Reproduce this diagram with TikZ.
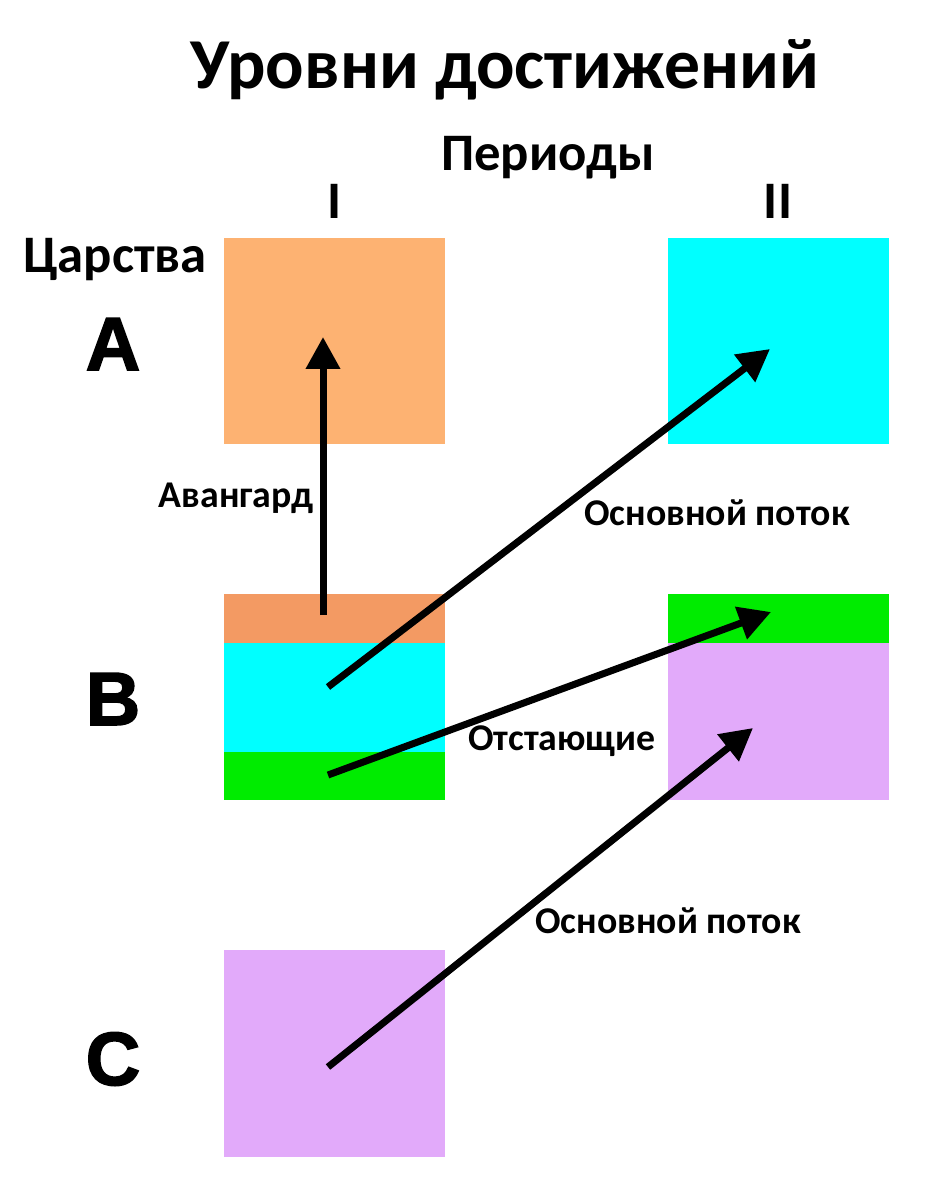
\documentclass[tikz,border=0pt]{standalone}
\usepackage{fontspec}
\setmainfont{Carlito}
\newfontfamily\lvlsans{Liberation Sans}[BoldFeatures={FakeBold=2}]
\usetikzlibrary{positioning,arrows.meta}
\definecolor{LvlOrange}{RGB}{253,178,114}
\definecolor{LvlRust}{RGB}{243,154,99}
\definecolor{LvlCyan}{RGB}{0,255,255}
\definecolor{LvlGreen}{RGB}{0,236,0}
\definecolor{LvlViolet}{RGB}{226,170,250}
\tikzset{
  lvl cell/.style={inner sep=0pt, outer sep=0pt, minimum width=4.42cm},
  lvl full/.style={lvl cell, minimum height=4.12cm},
  lvl arrow/.style={-{Triangle[length=0.64cm,width=0.66cm]}, line width=0.14cm, black},
  lvl text/.style={anchor=base, inner sep=0pt, font=\bfseries},
  lvl title/.style={lvl text, font=\fontsize{40.8}{48}\selectfont\bfseries},
  lvl head/.style={lvl text, font=\fontsize{30}{36}\selectfont\bfseries},
  lvl realm/.style={lvl text, font=\lvlsans\fontsize{43}{48}\selectfont\bfseries},
  lvl label/.style={lvl text, font=\fontsize{21.5}{26}\selectfont\bfseries}
}
\begin{document}
\begin{tikzpicture}[x=0.02cm, y=-0.02cm]
\useasboundingbox (0,0) rectangle (938,1200);
% headings
\node[lvl title] (title) at (505,88) {Уровни достижений};
\node[lvl head] (periods) at (548,170) {Периоды};
\node[lvl head] (perOne) at (335,218) {I};
\node[lvl head] (perTwo) at (778,218) {II};
\node[lvl head] (realms) at (115,272) {Царства};
\node[lvl realm] (realmA) at (113,370) {A};
\node[lvl realm] (realmB) at (113,725) {B};
\node[lvl realm] (realmC) at (113,1085) {C};
% cells
\node[lvl full, fill=LvlOrange, anchor=north west] (aOne) at (224,238) {};
\node[lvl full, fill=LvlCyan, anchor=north west] (aTwo) at (668,238) {};
\node[lvl cell, minimum height=0.98cm, fill=LvlRust, anchor=north west] (bOneTop) at (224,594) {};
\node[lvl cell, minimum height=2.18cm, fill=LvlCyan, below=0pt of bOneTop] (bOneMid) {};
\node[lvl cell, minimum height=0.96cm, fill=LvlGreen, below=0pt of bOneMid] (bOneLow) {};
\node[lvl cell, minimum height=0.98cm, fill=LvlGreen, anchor=north west] (bTwoTop) at (668,594) {};
\node[lvl cell, minimum height=3.14cm, fill=LvlViolet, below=0pt of bTwoTop] (bTwoLow) {};
\node[lvl cell, minimum height=4.14cm, fill=LvlViolet, anchor=north west] (cOne) at (224,950) {};
% arrow ends
\coordinate (avFrom) at (323,615);
\coordinate (avTo) at (323,337);
\coordinate (mainFrom) at (328,687);
\coordinate (mainTo) at (770,349);
\coordinate (lagFrom) at (328,775);
\coordinate (lagTo) at (771,612);
\coordinate (lowFrom) at (328,1067);
\coordinate (lowTo) at (753,728);
\draw[lvl arrow] (avFrom) -- (avTo);
\draw[lvl arrow] (mainFrom) -- (mainTo);
\draw[lvl arrow] (lagFrom) -- (lagTo);
\draw[lvl arrow] (lowFrom) -- (lowTo);
% labels
\node[lvl label] (lblAvant) at (236,507) {Авангард};
\node[lvl label] (lblMain) at (717,525) {Основной поток};
\node[lvl label] (lblLag) at (562,750) {Отстающие};
\node[lvl label] (lblLow) at (668,933) {Основной поток};
\end{tikzpicture}
\end{document}
